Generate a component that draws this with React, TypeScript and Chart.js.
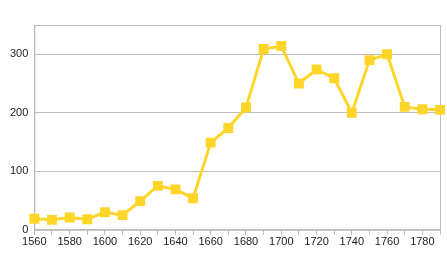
import React, { useEffect, useRef } from "react";
import { Chart, registerables } from "chart.js";

Chart.register(...registerables);

const years = [1560,1570,1580,1590,1600,1610,1620,1630,1640,1650,1660,1670,1680,1690,1700,1710,1720,1730,1740,1750,1760,1770,1780,1790];
const values = [19,17,21,18,30,25,49,75,69,54,149,174,209,309,314,250,274,259,200,290,300,210,206,205];
const yTicks = [0,100,200,300];

const borderPlugin = {
  id: "boxBorder",
  beforeDatasetsDraw(chart: any) {
    const { ctx, chartArea } = chart;
    ctx.save();
    ctx.strokeStyle = "#bbbbbb";
    ctx.lineWidth = 1;
    ctx.strokeRect(chartArea.left + 0.5, chartArea.top + 0.5, chartArea.right - chartArea.left, chartArea.bottom - chartArea.top);
    ctx.restore();
  },
};

export default function App() {
  const ref = useRef<HTMLCanvasElement>(null);
  useEffect(() => {
    document.body.style.margin = "0";
    const chart = new Chart(ref.current!, {
      type: "line",
      data: {
        labels: years.map(String),
        datasets: [{
          data: values,
          borderColor: "#ffd52a",
          backgroundColor: "#ffd52a",
          borderWidth: 3,
          pointStyle: "rect",
          pointRadius: 7,
          pointBorderWidth: 0,
          tension: 0,
        }],
      },
      options: {
        animation: false,
        responsive: false,
        layout: { padding: { top: 25, right: 6, left: 4, bottom: 4 } },
        plugins: { legend: { display: false }, tooltip: { enabled: false } },
        scales: {
          x: {
            offset: false,
            grid: { drawOnChartArea: false, color: "#bbbbbb", tickLength: 5, drawTicks: true },
            border: { color: "#bbbbbb" },
            ticks: {
              autoSkip: false,
              maxRotation: 0,
              padding: 1,
              color: "#222",
              font: { family: "Liberation Sans", size: 11 },
              callback: (v: any, i: number) => (years[i] % 20 === 0 ? String(years[i]) : ""),
            },
          },
          y: {
            min: 0,
            max: 350,
            afterBuildTicks: (s: any) => { s.ticks = yTicks.map((v) => ({ value: v })); },
            grid: { color: "#bbbbbb", drawTicks: false },
            border: { color: "#bbbbbb" },
            ticks: {
              padding: 6,
              color: "#222",
              font: { family: "Liberation Sans", size: 11 },
            },
          },
        },
      },
      plugins: [borderPlugin],
    });
    return () => chart.destroy();
  }, []);
  return (
    <div style={{ width: 447, height: 254 }}>
      <canvas ref={ref} width={447} height={254} />
    </div>
  );
}
